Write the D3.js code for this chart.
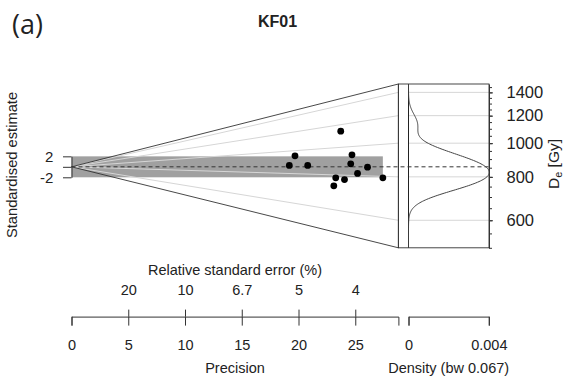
<!DOCTYPE html>
<html>
<head>
<meta charset="utf-8">
<script src="https://cdn.jsdelivr.net/npm/d3@7"></script>
<style>
  body { margin: 0; background: #fff; }
  text { font-family: "Liberation Sans", Arial, sans-serif; fill: #222; }
</style>
</head>
<body>
<svg id="chart" width="563" height="376"></svg>
<script>
// KF01 equivalent doses (Gy) and their precision (1 / relative standard error)
const de = [1139, 951, 867, 866, 938, 875, 853, 813, 781, 773, 731, 792];
const precision = [23.72, 19.69, 19.19, 20.81, 24.71, 24.60, 26.08, 25.20, 23.28, 24.05, 23.11, 27.43];
const centralDe = 855;
const bandwidth = 0.067;

const precisionTicks = [0, 5, 10, 15, 20, 25];
const rseTicks = [5, 10, 15, 20, 25];        // same positions, labelled as % error
const deMajor = [600, 800, 1000, 1200, 1400];
const deMinor = d3.range(500, 1500, 50);
const densityTicks = [0, 0.004];
const deLimits = [500, 1480];
const precisionMax = 28.8;

const svg = d3.select("#chart");

// scales
const x = d3.scaleLinear().domain([0, precisionMax]).range([71.5, 398.4]);
const zOf = (v, p) => Math.log(v / centralDe) * p;
const y = d3.scaleLinear()
  .domain([zOf(deLimits[0], precisionMax), zOf(deLimits[1], precisionMax)])
  .range([247.8, 84]);
const yDe = d3.scaleLog().domain(deLimits).range([247.8, 84]);
const xDens = d3.scaleLinear().domain([0, 0.004]).range([408.5, 488.8]);
const boxLeft = x(precisionMax), boxRight = 489;

// 2-sigma band
svg.append("rect")
  .attr("x", x(0))
  .attr("y", y(2))
  .attr("width", x(d3.max(precision)) - x(0))
  .attr("height", y(-2) - y(2))
  .attr("fill", "#a0a0a0");

// grid rays from origin to the De ticks
svg.append("g").selectAll("line")
  .data(deMajor)
  .join("line")
  .attr("x1", x(0)).attr("y1", y(0))
  .attr("x2", x(precisionMax)).attr("y2", d => yDe(d))
  .attr("stroke", "#d6d6d6").attr("stroke-width", 1);

svg.append("g").selectAll("line")
  .data(deMajor)
  .join("line")
  .attr("x1", xDens(0)).attr("x2", boxRight)
  .attr("y1", d => yDe(d)).attr("y2", d => yDe(d))
  .attr("stroke", "#d6d6d6").attr("stroke-width", 1);

// wedge outline
const wedge = [[x(0), y(0)], [x(precisionMax), yDe(deLimits[1])], [x(precisionMax), yDe(deLimits[0])]];
svg.append("path")
  .attr("d", d3.line()(wedge) + "Z")
  .attr("fill", "none").attr("stroke", "#333").attr("stroke-width", 0.9);

// density panel frame
svg.append("rect")
  .attr("x", boxLeft).attr("y", yDe(deLimits[1]))
  .attr("width", boxRight - boxLeft)
  .attr("height", yDe(deLimits[0]) - yDe(deLimits[1]))
  .attr("fill", "none").attr("stroke", "#333").attr("stroke-width", 0.9);
svg.append("line")
  .attr("x1", xDens(0)).attr("x2", xDens(0))
  .attr("y1", yDe(deLimits[1])).attr("y2", yDe(deLimits[0]))
  .attr("stroke", "#222").attr("stroke-width", 1);

// central value line
svg.append("line")
  .attr("x1", x(0)).attr("x2", boxRight)
  .attr("y1", y(0)).attr("y2", y(0))
  .attr("stroke", "#333").attr("stroke-width", 1)
  .attr("stroke-dasharray", "4,3");

// kernel density on log scale, expressed per Gy
const grid = d3.range(0, 241).map(i => deLimits[0] * Math.pow(deLimits[1] / deLimits[0], i / 240));
const dens = grid.map(g => {
  const s = d3.sum(de, d => {
    const u = (Math.log(g) - Math.log(d)) / bandwidth;
    return Math.exp(-0.5 * u * u) / Math.sqrt(2 * Math.PI);
  });
  return [g, s / de.length / (bandwidth * g)];
});
svg.append("path")
  .datum(dens)
  .attr("d", d3.line().x(d => xDens(d[1])).y(d => yDe(d[0])).curve(d3.curveBasis))
  .attr("fill", "none").attr("stroke", "#444").attr("stroke-width", 1);

// points
svg.append("g").selectAll("circle")
  .data(de.map((d, i) => ({ de: d, p: precision[i] })))
  .join("circle")
  .attr("cx", d => x(d.p))
  .attr("cy", d => y(zOf(d.de, d.p)))
  .attr("r", 3.4)
  .attr("fill", "#000");

// axes
function style(g) {
  g.selectAll("path, line").attr("stroke", "#333");
  g.selectAll("text").attr("fill", "#222").style("font-family", "Liberation Sans, Arial, sans-serif");
}

const axisY = 316.6;
svg.append("g")
  .attr("transform", `translate(0,${axisY})`)
  .call(d3.axisBottom(x).tickValues(precisionTicks).tickSize(9).tickSizeOuter(9).tickPadding(14.6))
  .call(g => g.selectAll("text").style("font-size", "14.5px"))
  .call(style);

svg.append("g")
  .attr("transform", `translate(0,${axisY})`)
  .call(d3.axisTop(x).tickValues(rseTicks).tickFormat(p => d3.format(".2~r")(100 / p))
    .tickSize(7).tickSizeOuter(0).tickPadding(14.6))
  .call(g => g.select(".domain").remove())
  .call(g => g.selectAll("text").style("font-size", "14.5px"))
  .call(style);

svg.append("g")
  .attr("transform", `translate(0,${axisY})`)
  .call(d3.axisBottom(xDens).tickValues(densityTicks).tickFormat(d => d === 0 ? "0" : d3.format(".3f")(d))
    .tickSize(9).tickSizeOuter(9).tickPadding(14.6))
  .call(g => g.selectAll("text").style("font-size", "14.5px"))
  .call(style);

// standardised estimate axis, only -2..2
const yBand = y.copy().domain([-2, 2]).range([y(-2), y(2)]);
svg.append("g")
  .attr("transform", `translate(${x(0)},0)`)
  .call(d3.axisLeft(yBand).tickValues([-2, 0, 2]).tickFormat(d => d === 0 ? "" : d)
    .tickSize(8.5).tickSizeOuter(0).tickPadding(9.7))
  .call(g => g.selectAll("text").style("font-size", "15px"))
  .call(style);

// De axis on the right
svg.append("g")
  .attr("transform", `translate(${boxRight},0)`)
  .call(d3.axisRight(yDe).tickValues(deMinor).tickFormat("").tickSize(3).tickSizeOuter(0))
  .call(style);
svg.append("g")
  .attr("transform", `translate(${boxRight},0)`)
  .call(d3.axisRight(yDe).tickValues(deMajor).tickFormat(d3.format("d"))
    .tickSize(4).tickSizeOuter(0).tickPadding(13.5))
  .call(g => g.select(".domain").remove())
  .call(g => g.selectAll("text").style("font-size", "16.5px"))
  .call(style);

// labels
svg.append("text")
  .attr("x", 277.5).attr("y", 27)
  .attr("text-anchor", "middle")
  .style("font-size", "16px").style("font-weight", "bold")
  .text("KF01");

svg.append("text")
  .attr("x", 12).attr("y", 34)
  .style("font-family", "'Open Sans', sans-serif")
  .style("font-size", "27px")
  .text("(a)");

svg.append("text")
  .attr("transform", "translate(17.3,165) rotate(-90)")
  .attr("text-anchor", "middle")
  .style("font-size", "14.7px")
  .text("Standardised estimate");

const deLab = svg.append("text")
  .attr("transform", "translate(558.5,164) rotate(-90)")
  .attr("text-anchor", "middle")
  .style("font-size", "15.5px");
deLab.append("tspan").text("D");
deLab.append("tspan").attr("dy", 3.5).style("font-size", "11px").text("e");
deLab.append("tspan").attr("dy", -3.5).text(" [Gy]");

svg.append("text")
  .attr("x", (x(0) + x(precisionMax)) / 2).attr("y", 275)
  .attr("text-anchor", "middle")
  .style("font-size", "14.5px")
  .text("Relative standard error (%)");

svg.append("text")
  .attr("x", (x(0) + x(precisionMax)) / 2).attr("y", 373)
  .attr("text-anchor", "middle")
  .style("font-size", "14.5px")
  .text("Precision");

svg.append("text")
  .attr("x", (xDens(0) + xDens(0.004)) / 2).attr("y", 373)
  .attr("text-anchor", "middle")
  .style("font-size", "14.5px")
  .text("Density (bw " + bandwidth + ")");
</script>
</body>
</html>
